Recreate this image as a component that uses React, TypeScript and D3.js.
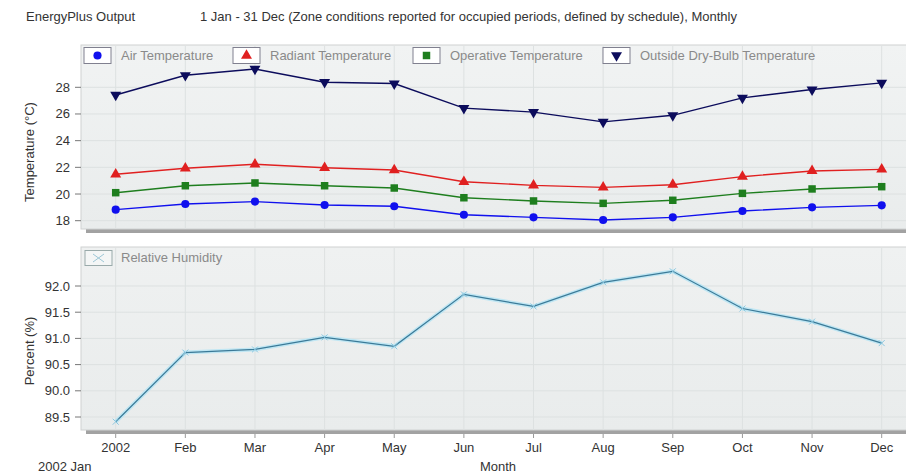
import React from "react";
import * as d3 from "d3";

const months = ["Jan", "Feb", "Mar", "Apr", "May", "Jun", "Jul", "Aug", "Sep", "Oct", "Nov", "Dec"];
const monthLabels = ["2002", "Feb", "Mar", "Apr", "May", "Jun", "Jul", "Aug", "Sep", "Oct", "Nov", "Dec"];

const airTemp = [18.83, 19.25, 19.43, 19.18, 19.08, 18.45, 18.25, 18.05, 18.25, 18.73, 19.0, 19.15];
const radiantTemp = [21.48, 21.93, 22.23, 21.97, 21.8, 20.92, 20.65, 20.5, 20.7, 21.3, 21.73, 21.85];
const operativeTemp = [20.1, 20.62, 20.83, 20.62, 20.45, 19.72, 19.48, 19.3, 19.53, 20.05, 20.38, 20.55];
const outsideTemp = [27.42, 28.9, 29.37, 28.38, 28.28, 26.44, 26.14, 25.41, 25.9, 27.21, 27.83, 28.33];
const humidity = [89.41, 90.73, 90.79, 91.02, 90.85, 91.84, 91.61, 92.07, 92.28, 91.57, 91.32, 90.91];

const tempTicks = [18, 20, 22, 24, 26, 28];
const humTicks = [89.5, 90.0, 90.5, 91.0, 91.5, 92.0];

const FONT = "'Liberation Sans', Arial, sans-serif";

type Series = { name: string; values: number[]; color: string; symbol: string };
const tempSeries: Series[] = [
  { name: "Air Temperature", values: airTemp, color: "#1010ee", symbol: "circle" },
  { name: "Radiant Temperature", values: radiantTemp, color: "#e02020", symbol: "triangle" },
  { name: "Operative Temperature", values: operativeTemp, color: "#1e7e1e", symbol: "square" },
  { name: "Outside Dry-Bulb Temperature", values: outsideTemp, color: "#0c0c5c", symbol: "down" },
];
const legendX = [84, 233, 413, 603];

function symbolPath(kind: string): string {
  if (kind === "circle") return d3.symbol(d3.symbolCircle, 52)()!;
  if (kind === "square") return d3.symbol(d3.symbolSquare, 56)()!;
  return d3.symbol(d3.symbolTriangle, 52)()!;
}

export default function App() {
  const W = 906, H = 473;
  const x = d3.scalePoint<string>().domain(months).range([115.7, 881.7]);
  const yT = d3.scaleLinear().domain([18, 28]).range([220.7, 87.3]);
  const yH = d3.scaleLinear().domain([89.5, 92]).range([417, 286]);

  const top = { x: 81, y: 45, w: 830, h: 184 };
  const bot = { x: 81, y: 247, w: 830, h: 183 };

  const lineT = (vals: number[]) =>
    d3.line<number>().x((_, i) => x(months[i])!).y((v) => yT(v))(vals)!;
  const lineH = d3.line<number>().x((_, i) => x(months[i])!).y((v) => yH(v))(humidity)!;

  const panel = (p: typeof top, key: string) => (
    <g key={key}>
      <rect x={p.x + 5} y={p.y + p.h} width={p.w} height={4} fill="#a2a2a2" />
      <rect x={p.x} y={p.y} width={p.w} height={p.h} fill={`url(#bg${key})`} stroke="#cfd2d2" strokeWidth={1} />
    </g>
  );

  return (
    <svg width={W} height={H} style={{ position: "absolute", left: 0, top: 0, background: "#fff" }} fontFamily={FONT}>
      <defs>
        <linearGradient id="bgt" x1="0" y1="0" x2="0" y2="1">
          <stop offset="0" stopColor="#f1f3f3" />
          <stop offset="1" stopColor="#e9ecec" />
        </linearGradient>
        <linearGradient id="bgb" x1="0" y1="0" x2="0" y2="1">
          <stop offset="0" stopColor="#eff1f1" />
          <stop offset="1" stopColor="#e9ecec" />
        </linearGradient>
      </defs>
      <text x={26} y={21} fontSize={13} fill="#333">EnergyPlus Output</text>
      <text x={200} y={21} fontSize={13} fill="#333">
        1 Jan - 31 Dec (Zone conditions reported for occupied periods, defined by schedule), Monthly
      </text>

      {panel(top, "t")}
      {panel(bot, "b")}

      {months.map((m) => (
        <line key={"gvt" + m} x1={x(m)} x2={x(m)} y1={top.y + 1} y2={top.y + top.h} stroke="#dde1e1" />
      ))}
      {tempTicks.map((t) => (
        <line key={"ght" + t} x1={top.x} x2={top.x + top.w} y1={yT(t)} y2={yT(t)} stroke="#dde1e1" />
      ))}
      {months.map((m) => (
        <line key={"gvb" + m} x1={x(m)} x2={x(m)} y1={bot.y + 1} y2={bot.y + bot.h} stroke="#dde1e1" />
      ))}
      {humTicks.map((t) => (
        <line key={"ghb" + t} x1={bot.x} x2={bot.x + bot.w} y1={yH(t)} y2={yH(t)} stroke="#dde1e1" />
      ))}

      {tempTicks.map((t) => (
        <g key={"tt" + t}>
          <line x1={75} x2={81} y1={yT(t)} y2={yT(t)} stroke="#777" />
          <text x={70} y={yT(t) + 4.5} fontSize={13} textAnchor="end" fill="#333">{t}</text>
        </g>
      ))}
      {humTicks.map((t) => (
        <g key={"ht" + t}>
          <line x1={75} x2={81} y1={yH(t)} y2={yH(t)} stroke="#777" />
          <text x={70} y={yH(t) + 4.5} fontSize={13} textAnchor="end" fill="#333">{t.toFixed(1)}</text>
        </g>
      ))}
      <text transform="translate(34,152) rotate(-90)" fontSize={13} textAnchor="middle" fill="#333">Temperature (°C)</text>
      <text transform="translate(34,351) rotate(-90)" fontSize={13} textAnchor="middle" fill="#333">Percent (%)</text>

      {months.map((m, i) => (
        <g key={"xt" + m}>
          <line x1={x(m)} x2={x(m)} y1={434} y2={438} stroke="#999" />
          <text x={x(m)} y={452} fontSize={13} textAnchor="middle" fill="#333">{monthLabels[i]}</text>
        </g>
      ))}
      <text x={38} y={471} fontSize={13} fill="#333">2002 Jan</text>
      <text x={498} y={471} fontSize={13} textAnchor="middle" fill="#333">Month</text>

      {tempSeries.map((s) => (
        <g key={s.name}>
          <path d={lineT(s.values)} fill="none" stroke={s.color} strokeWidth={1.4} />
          {s.values.map((v, i) => (
            <path
              key={i}
              d={symbolPath(s.symbol)}
              transform={`translate(${x(months[i])},${yT(v)})${s.symbol === "down" ? " rotate(180)" : ""}`}
              fill={s.color}
            />
          ))}
        </g>
      ))}

      {tempSeries.map((s, i) => (
        <g key={"lg" + s.name}>
          <rect x={legendX[i]} y={47.5} width={27} height={16} fill="#fff" stroke="#80808f" />
          <path
            d={symbolPath(s.symbol)}
            transform={`translate(${legendX[i] + 13.5},${55.5})${s.symbol === "down" ? " rotate(180)" : ""}`}
            fill={s.color}
          />
          <text x={legendX[i] + 37} y={60} fontSize={13} fill="#8a8a8a">{s.name}</text>
        </g>
      ))}

      <path d={lineH} fill="none" stroke="#bfe6f3" strokeWidth={4} />
      <path d={lineH} fill="none" stroke="#3b7a98" strokeWidth={1.2} />
      {humidity.map((v, i) => {
        const cx = x(months[i])!, cy = yH(v);
        return (
          <path key={"hx" + i} d={`M${cx - 3},${cy - 3}L${cx + 3},${cy + 3}M${cx - 3},${cy + 3}L${cx + 3},${cy - 3}`} stroke="#8cc8e0" strokeWidth={1} />
        );
      })}
      <rect x={85} y={250.5} width={27} height={15} fill="#f4f6f6" stroke="#9aa" />
      <path d="M93,254L104,262M93,262L104,254" stroke="#9cc6d6" strokeWidth={1} />
      <text x={121} y={262} fontSize={13} fill="#8a8a8a">Relative Humidity</text>
    </svg>
  );
}
